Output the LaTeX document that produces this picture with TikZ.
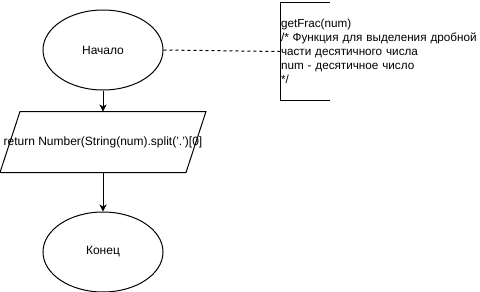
\documentclass[tikz,border=0pt]{standalone}
\usepackage{fontspec}
\setmainfont{Liberation Sans}
\usetikzlibrary{arrows.meta, positioning, shapes.geometric}

\begin{document}
\begin{tikzpicture}[
        x=1pt, y=-1pt,
        line width=1pt,
        font=\fontsize{12}{14}\selectfont,
        terminal/.style={
            ellipse,
            draw=black,
            minimum width=120pt,
            minimum height=80pt,
            inner sep=0pt
        },
        salida/.style={
            rectangle,
            minimum width=185pt,
            minimum height=60pt,
            inner sep=0pt
        },
        nota/.style={
            rectangle,
            minimum width=240pt,
            minimum height=97pt,
            align=left,
            text width=239pt,
            inner sep=0.5pt,
            font=\fontsize{11.7}{14}\selectfont
        },
        flecha/.style={-{Stealth[length=7pt, width=7pt, inset=2pt]}, draw=black}
    ]
        \useasboundingbox (0,0) rectangle (480,292);

        \node[terminal] (inicio) at (103,50) {Начало};

        \node[salida, below=21pt of inicio] (retorno)
            {\makebox[185pt]{return Number(String(num).split('.')[0]}};
        % lados inclinados del bloque de salida
        \draw ([xshift=10pt]retorno.north west) -- ([xshift=10pt]retorno.north east)
            -- ([xshift=-10pt]retorno.south east) -- ([xshift=-10pt]retorno.south west) -- cycle;

        \node[terminal, below=39pt of retorno] (fin) {Конец};

        \node[nota, anchor=west] (comentario) at (280,51.5) {
            getFrac(num)\\
            /* Функция для выделения дробной\\
            части десятичного числа\\
            num - десятичное число\\{}*/
        };

        % corchete del comentario
        \draw ([xshift=50pt]comentario.north west) -- (comentario.north west)
            -- (comentario.south west) -- ([xshift=50pt]comentario.south west);
        \draw[dash pattern=on 3pt off 3pt] (inicio.east) -- (comentario.west);

        \draw[flecha] (inicio.south) -- (retorno.north);
        \draw[flecha] (retorno.south) -- (fin.north);
    \end{tikzpicture}
\end{document}
